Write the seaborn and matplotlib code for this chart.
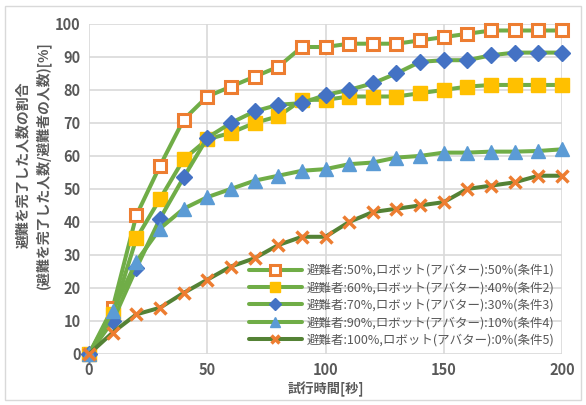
import numpy as np
import pandas as pd
import matplotlib
matplotlib.use("Agg")
import matplotlib.pyplot as plt
import seaborn as sns
from matplotlib.patches import Rectangle

# data (time [s] vs share evacuated [%])
time_s = list(range(0, 201, 10))
cond1 = [0, 14, 42, 57, 71, 78, 81, 84, 87, 93, 93, 94, 94, 94, 95, 96, 97, 98, 98, 98, 98]
cond2 = [0, 12, 35, 47, 59, 65, 67, 70, 72, 77, 77, 78, 78, 78, 79, 80, 81, 81.5, 81.5, 81.5, 81.5]
cond3 = [0, 10, 26, 41, 53.5, 65.5, 70, 73.5, 75.5, 76, 78.5, 80, 82, 85, 88.5, 89, 89, 90.5, 91.3, 91.3, 91.3]
cond4 = [0, 13, 28, 38, 44, 47.5, 50, 52.5, 54, 55.5, 56, 57.5, 58, 59.5, 60, 61, 61, 61.3, 61.3, 61.5, 62]
cond5 = [0, 6.5, 12, 14, 18.5, 22.5, 26.5, 29, 33, 35.5, 35.5, 40, 43, 44, 45, 46, 50, 51, 52, 54, 54]

labels = [
    "避難者:50%,ロボット(アバター):50%(条件1)",
    "避難者:60%,ロボット(アバター):40%(条件2)",
    "避難者:70%,ロボット(アバター):30%(条件3)",
    "避難者:90%,ロボット(アバター):10%(条件4)",
    "避難者:100%,ロボット(アバター):0%(条件5)",
]
series = [cond1, cond2, cond3, cond4, cond5]

sns.set_style("white")
plt.rcParams["font.family"] = ["Noto Sans CJK JP", "DejaVu Sans"]

fig = plt.figure(figsize=(5.86, 4.05), dpi=100)
ax = fig.add_axes([0.152, 0.126, 0.807, 0.815])

# chart border like the spreadsheet frame
fig.patches.append(Rectangle((0.009, 0.012), 0.982, 0.972, transform=fig.transFigure,
                             fill=False, edgecolor="#d9d9d9", linewidth=1.0))

line_green = "#70ad47"
dark_green = "#548235"
styles = [
    dict(color=line_green, marker="s", markersize=9, markerfacecolor="white",
         markeredgecolor="#ed7d31", markeredgewidth=2.2),
    dict(color=line_green, marker="s", markersize=10, markerfacecolor="#ffc000",
         markeredgecolor="#ffc000", markeredgewidth=1),
    dict(color=line_green, marker="D", markersize=8, markerfacecolor="#4472c4",
         markeredgecolor="#4472c4", markeredgewidth=1),
    dict(color=line_green, marker="^", markersize=10, markerfacecolor="#5b9bd5",
         markeredgecolor="#5b9bd5", markeredgewidth=1),
    dict(color=dark_green, marker="x", markersize=8, markerfacecolor="#ed7d31",
         markeredgecolor="#ed7d31", markeredgewidth=2.5),
]

for vals, lab, st in zip(series, labels, styles):
    df = pd.DataFrame({"time": time_s, "value": vals})
    sns.lineplot(data=df, x="time", y="value", ax=ax, label=lab,
                 linewidth=2.9, clip_on=False, zorder=3, **st)

ax.set_xlim(0, 200)
ax.set_ylim(0, 100)
ax.set_xticks(np.arange(0, 201, 50))
ax.set_yticks(np.arange(0, 101, 10))
ax.grid(True, color="#d9d9d9", linewidth=1.2)
ax.set_axisbelow(True)
for sp in ax.spines.values():
    sp.set_visible(False)
ax.tick_params(length=0, labelsize=10.5, colors="#595959", pad=6)
for t in ax.get_xticklabels() + ax.get_yticklabels():
    t.set_fontweight("bold")

ax.set_xlabel("試行時間[秒]", fontsize=9.5, fontweight="bold", color="#595959", labelpad=2)
ax.set_ylabel("避難を完了した人数の割合\n(避難を完了した人数/避難者の人数)[%]",
              fontsize=10, fontweight="bold", color="#595959", linespacing=1.45,
              va="center")
ax.yaxis.set_label_coords(-0.118, 0.573)

leg = ax.legend(loc="lower right", bbox_to_anchor=(1.0, 0.0), frameon=False,
                fontsize=9, handlelength=4.2, labelspacing=0.35, handletextpad=0.4,
                borderaxespad=0.2, markerscale=0.75)
for t in leg.get_texts():
    t.set_color("#595959")

fig.savefig("out.png", dpi=100)
